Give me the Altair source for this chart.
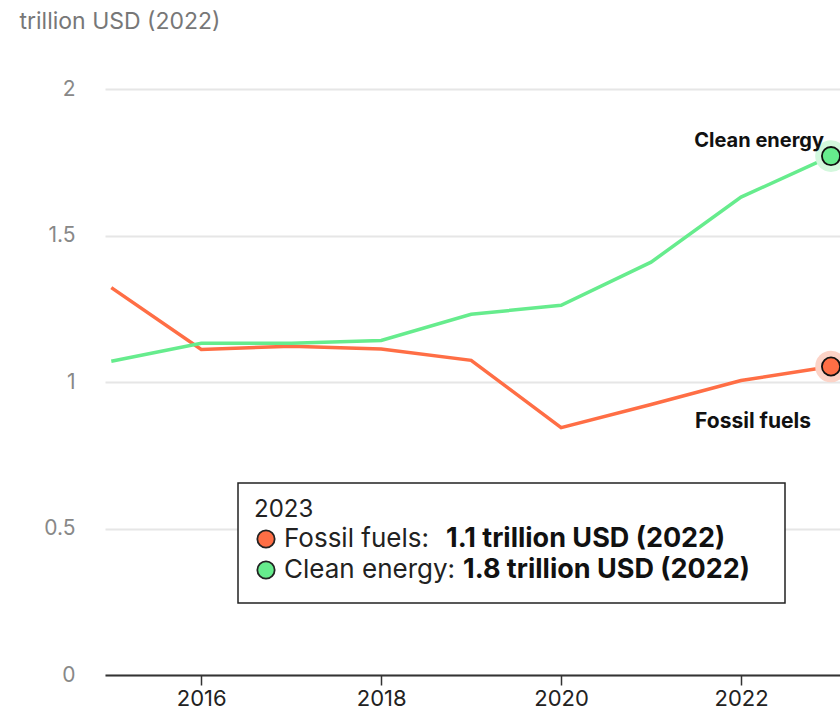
import altair as alt
import pandas as pd

years = [2015, 2016, 2017, 2018, 2019, 2020, 2021, 2022, 2023]
fossil = [1.322, 1.111, 1.122, 1.113, 1.074, 0.844, 0.923, 1.005, 1.053]
clean = [1.071, 1.132, 1.132, 1.142, 1.231, 1.262, 1.409, 1.631, 1.771]
series_names = ["Fossil fuels", "Clean energy"]
colors = ["#FF6E45", "#66EC8D"]
halo_colors = ["#FCD3C7", "#D3F8DD"]
y_ticks = [0, 0.5, 1, 1.5, 2]
x_ticks = [2016, 2018, 2020, 2022]
legend_year = "2023"
legend_values = ["1.1 trillion USD (2022)", "1.8 trillion USD (2022)"]
y_title = "trillion USD (2022)"

FONT = "Inter, Roboto, sans-serif"

rows = []
for i, y in enumerate(years):
    rows.append({"year": y, "value": fossil[i], "series": series_names[0],
                 "halo": halo_colors[0]})
    rows.append({"year": y, "value": clean[i], "series": series_names[1],
                 "halo": halo_colors[1]})
df = pd.DataFrame(rows)
last = df[df["year"] == years[-1]]

W, H = 735, 586
xscale = alt.Scale(domain=[2014.93, 2023.1], nice=False, zero=False)
yscale = alt.Scale(domain=[0, 2], nice=False)
cscale = alt.Scale(domain=series_names, range=colors)

x_axis = alt.Axis(
    values=x_ticks, format="d", grid=False, domain=True, domainColor="#333333",
    domainWidth=2, ticks=True, tickColor="#333333", tickSize=10, tickWidth=1.5,
    labelColor="#222222", labelFontSize=22, labelFont=FONT, labelPadding=3, title=None)
y_axis = alt.Axis(
    values=y_ticks, format="~g", grid=True, gridColor="#E6E6E6", gridWidth=2,
    domain=False, ticks=False,
    labelColor="#888888", labelFontSize=21, labelFont=FONT, labelPadding=30,
    labelAlign="right", labelBaseline="middle",
    title=y_title, titleAngle=0, titleAlign="left", titleBaseline="middle",
    titleX=-86, titleY=-68, titleColor="#777777", titleFontSize=23,
    titleFontWeight="normal", titleFont=FONT)

xn = alt.X("year:Q", scale=xscale, axis=x_axis)
yn = alt.Y("value:Q", scale=yscale, axis=y_axis)

lines = alt.Chart(df).mark_line(strokeWidth=3.5, clip=True).encode(
    x=xn, y=yn,
    color=alt.Color("series:N", scale=cscale, legend=None),
    detail="series:N")

halo = alt.Chart(last).mark_circle(size=1000, opacity=1, clip=True).encode(
    x=xn, y=yn, fill=alt.Fill("halo:N", scale=None))

dots = alt.Chart(last).mark_point(filled=True, size=330, opacity=1, stroke="#111111",
                                  strokeWidth=1.8, shape="circle", clip=True).encode(
    x=xn, y=yn, fill=alt.Fill("series:N", scale=cscale, legend=None))

clean_last = last[last["series"] == series_names[1]]
fossil_last = last[last["series"] == series_names[0]]

clean_lbl = alt.Chart(clean_last).mark_text(
    align="right", baseline="middle", dx=-7, dy=-15, fontSize=20, fontWeight="bold",
    font=FONT, color="#111111").encode(x=xn, y=yn, text="series:N")

fossil_lbl = alt.Chart(fossil_last).mark_text(
    align="center", baseline="middle", dx=-78, dy=56, fontSize=21, fontWeight="bold",
    font=FONT, color="#111111").encode(x=xn, y=yn, text="series:N")

# legend box (annotation)
box_df = pd.DataFrame({"a": [0]})
box = alt.Chart(box_df).mark_rect(fill="white", stroke="#222222", strokeWidth=1.5).encode(
    x=alt.value(238 - 105), x2=alt.value(785 - 105),
    y=alt.value(483 - 89), y2=alt.value(603 - 89))

year_txt = alt.Chart(box_df).mark_text(
    align="left", baseline="middle", fontSize=24, font=FONT, color="#222222").encode(
    x=alt.value(254 - 105), y=alt.value(510 - 89), text=alt.value(legend_year))

legend_layers = []
row_y = [539, 570]
bold_x = [446, 463]
for i, name in enumerate(series_names):
    ypx = row_y[i] - 89
    legend_layers.append(alt.Chart(box_df).mark_point(
        filled=True, size=300, opacity=1, stroke="#222222", strokeWidth=1.8,
        shape="circle", fill=colors[i]).encode(
        x=alt.value(266 - 105), y=alt.value(ypx)))
    legend_layers.append(alt.Chart(box_df).mark_text(
        align="left", baseline="middle", fontSize=26, font=FONT, color="#222222").encode(
        x=alt.value(284 - 105), y=alt.value(ypx), text=alt.value(name + ":")))
    legend_layers.append(alt.Chart(box_df).mark_text(
        align="left", baseline="middle", fontSize=27, font=FONT, fontWeight="bold",
        color="#111111").encode(
        x=alt.value(bold_x[i] - 105), y=alt.value(ypx), text=alt.value(legend_values[i])))

chart = alt.layer(lines, halo, dots, clean_lbl, fossil_lbl, box, year_txt,
                  *legend_layers).properties(
    width=W, height=H,
    background="white",
    autosize=alt.AutoSizeParams(type="none"),
    padding={"left": 105, "top": 89, "right": 0, "bottom": 42},
).configure_view(strokeWidth=0, stroke="transparent").configure_axisY(
    domain=False, ticks=False
).configure_axisX(grid=False)

chart.save("out.html", embed_options={"renderer": "svg", "actions": False})
